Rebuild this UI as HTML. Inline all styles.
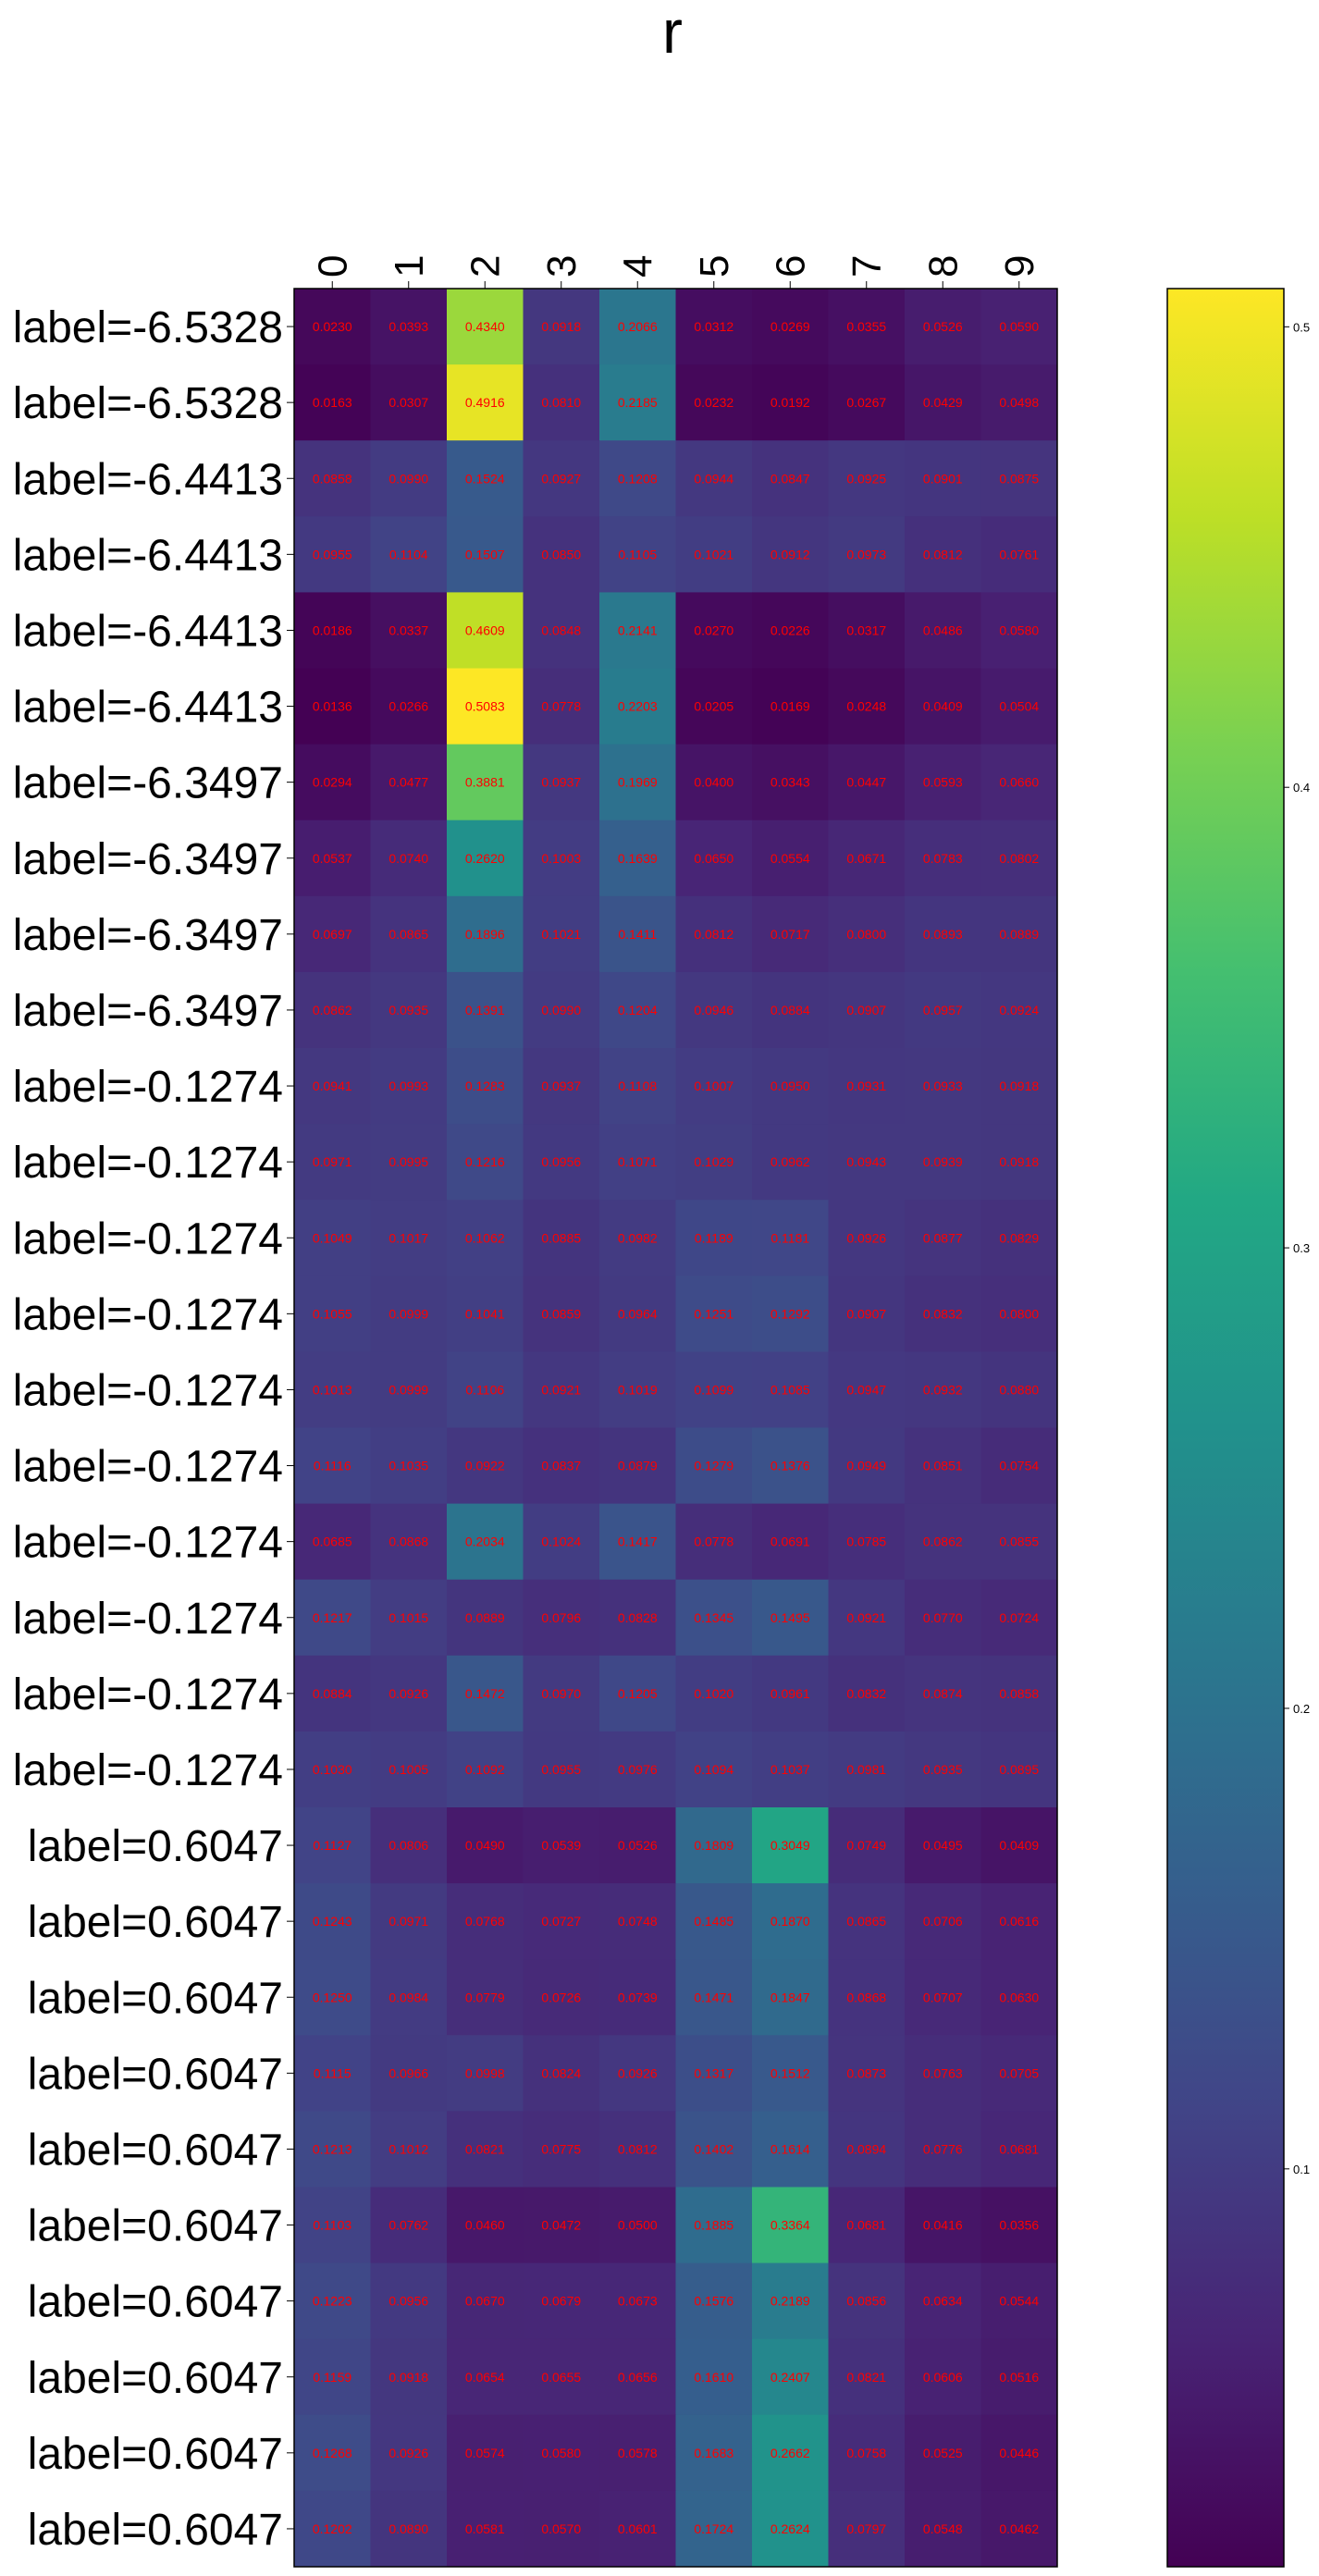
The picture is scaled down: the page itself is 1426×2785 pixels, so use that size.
<!DOCTYPE html>
<html><head><meta charset="utf-8">
<style>
html,body{margin:0;padding:0;background:#fff;}
svg{display:block;}
text{font-family:"Liberation Sans","DejaVu Sans",sans-serif;}
</style></head>
<body>
<svg id="chart" width="1426" height="2785" viewBox="0 0 1426 2785" xmlns="http://www.w3.org/2000/svg">
<defs>
<linearGradient id="vir" x1="0" y1="1" x2="0" y2="0">
<stop offset="0" stop-color="#440154"/><stop offset="0.1" stop-color="#482475"/><stop offset="0.2" stop-color="#414487"/><stop offset="0.3" stop-color="#355f8d"/><stop offset="0.4" stop-color="#2a788e"/><stop offset="0.5" stop-color="#21918c"/><stop offset="0.6" stop-color="#22a884"/><stop offset="0.7" stop-color="#44bf70"/><stop offset="0.8" stop-color="#7ad151"/><stop offset="0.9" stop-color="#bddf26"/><stop offset="1" stop-color="#fde725"/>
</linearGradient>
</defs>
<text x="727" y="57" font-size="66" text-anchor="middle">r</text>
<g id="cells"></g>
<rect x="318" y="312" width="825" height="2463" fill="none" stroke="#000" stroke-width="1.5"/>
<g id="xaxis"></g>
<g id="yaxis"></g>
<rect x="1262" y="312" width="126" height="2463" fill="url(#vir)" stroke="#000" stroke-width="1.5"/>
<g id="cbar"></g>
</svg>
<script>
const columns = ["0","1","2","3","4","5","6","7","8","9"];
const rowLabels = ["label=-6.5328","label=-6.5328","label=-6.4413","label=-6.4413","label=-6.4413","label=-6.4413","label=-6.3497","label=-6.3497","label=-6.3497","label=-6.3497","label=-0.1274","label=-0.1274","label=-0.1274","label=-0.1274","label=-0.1274","label=-0.1274","label=-0.1274","label=-0.1274","label=-0.1274","label=-0.1274","label=0.6047","label=0.6047","label=0.6047","label=0.6047","label=0.6047","label=0.6047","label=0.6047","label=0.6047","label=0.6047","label=0.6047"];
const values = [
[0.0230,0.0393,0.4340,0.0918,0.2066,0.0312,0.0269,0.0355,0.0526,0.0590],
[0.0163,0.0307,0.4916,0.0810,0.2185,0.0232,0.0192,0.0267,0.0429,0.0498],
[0.0858,0.0990,0.1524,0.0927,0.1208,0.0944,0.0847,0.0925,0.0901,0.0875],
[0.0955,0.1104,0.1507,0.0850,0.1105,0.1021,0.0912,0.0973,0.0812,0.0761],
[0.0186,0.0337,0.4609,0.0848,0.2141,0.0270,0.0226,0.0317,0.0486,0.0580],
[0.0136,0.0266,0.5083,0.0778,0.2203,0.0205,0.0169,0.0248,0.0409,0.0504],
[0.0294,0.0477,0.3881,0.0937,0.1969,0.0400,0.0343,0.0447,0.0593,0.0660],
[0.0537,0.0740,0.2620,0.1003,0.1639,0.0650,0.0554,0.0671,0.0783,0.0802],
[0.0697,0.0865,0.1896,0.1021,0.1411,0.0812,0.0717,0.0800,0.0893,0.0889],
[0.0862,0.0935,0.1391,0.0990,0.1204,0.0946,0.0884,0.0907,0.0957,0.0924],
[0.0941,0.0993,0.1283,0.0937,0.1108,0.1007,0.0950,0.0931,0.0933,0.0918],
[0.0971,0.0995,0.1216,0.0956,0.1071,0.1029,0.0962,0.0943,0.0939,0.0918],
[0.1049,0.1017,0.1062,0.0885,0.0982,0.1189,0.1181,0.0926,0.0877,0.0829],
[0.1055,0.0999,0.1041,0.0859,0.0964,0.1251,0.1292,0.0907,0.0832,0.0800],
[0.1013,0.0999,0.1106,0.0921,0.1019,0.1099,0.1085,0.0947,0.0932,0.0880],
[0.1116,0.1035,0.0922,0.0837,0.0879,0.1279,0.1376,0.0949,0.0851,0.0754],
[0.0685,0.0868,0.2034,0.1024,0.1417,0.0778,0.0691,0.0785,0.0862,0.0855],
[0.1217,0.1015,0.0889,0.0796,0.0828,0.1345,0.1495,0.0921,0.0770,0.0724],
[0.0884,0.0926,0.1472,0.0970,0.1205,0.1020,0.0961,0.0832,0.0874,0.0858],
[0.1030,0.1005,0.1092,0.0955,0.0976,0.1094,0.1037,0.0981,0.0935,0.0895],
[0.1127,0.0806,0.0490,0.0539,0.0526,0.1809,0.3049,0.0749,0.0495,0.0409],
[0.1243,0.0971,0.0768,0.0727,0.0748,0.1485,0.1870,0.0865,0.0706,0.0616],
[0.1250,0.0984,0.0779,0.0726,0.0739,0.1471,0.1847,0.0868,0.0707,0.0630],
[0.1115,0.0966,0.0998,0.0824,0.0926,0.1317,0.1512,0.0873,0.0763,0.0705],
[0.1213,0.1012,0.0821,0.0775,0.0812,0.1402,0.1614,0.0894,0.0776,0.0681],
[0.1103,0.0762,0.0460,0.0472,0.0500,0.1885,0.3364,0.0681,0.0416,0.0356],
[0.1223,0.0956,0.0670,0.0679,0.0673,0.1576,0.2189,0.0856,0.0634,0.0544],
[0.1159,0.0918,0.0654,0.0655,0.0656,0.1610,0.2407,0.0821,0.0606,0.0516],
[0.1268,0.0926,0.0574,0.0580,0.0578,0.1683,0.2662,0.0758,0.0525,0.0446],
[0.1202,0.0890,0.0581,0.0570,0.0601,0.1724,0.2624,0.0797,0.0548,0.0462]
];
const cbarTicks = [0.1,0.2,0.3,0.4,0.5];

const NS = "http://www.w3.org/2000/svg";
const X0 = 318, X1 = 1143, Y0 = 312, Y1 = 2775;
const cw = (X1 - X0) / columns.length, rh = (Y1 - Y0) / values.length;
const xPos = i => X0 + i * cw;
const yPos = j => Y0 + j * rh;
let vmin = Infinity, vmax = -Infinity;
values.forEach(r => r.forEach(v => { vmin = Math.min(vmin, v); vmax = Math.max(vmax, v); }));
const vir = ["#440154","#482475","#414487","#355f8d","#2a788e","#21918c","#22a884","#44bf70","#7ad151","#bddf26","#fde725"];
function hex(h){return [1,3,5].map(k=>parseInt(h.substr(k,2),16));}
function color(v){
  let t = (v - vmin) / (vmax - vmin); t = Math.max(0, Math.min(1, t));
  const p = t * 10, i = Math.min(9, Math.floor(p)), f = p - i;
  const a = hex(vir[i]), b = hex(vir[i+1]);
  return "rgb(" + a.map((c,k)=>Math.round(c + (b[k]-c)*f)).join(",") + ")";
}
function mk(tag, attrs, parent){
  const e = document.createElementNS(NS, tag);
  for (const k in attrs) e.setAttribute(k, attrs[k]);
  parent.appendChild(e); return e;
}
const cells = document.getElementById("cells");
values.forEach((row, j) => row.forEach((v, i) => {
  const r = mk("rect", {x: xPos(i), y: yPos(j), width: cw + 0.5, height: rh + 0.5, fill: color(v)}, cells);
  
  
  const t = mk("text", {x: xPos(i) + cw/2, y: yPos(j) + rh/2 + 5, "font-size": 14, fill: "#ff0000", "text-anchor": "middle"}, cells);
  t.textContent = v.toFixed(4);
  
  
}));
const xa = document.getElementById("xaxis");
columns.forEach((c, i) => {
  const cx = xPos(i) + cw/2;
  const tk = mk("line", {x1: cx, x2: cx, y1: Y0, y2: Y0 - 8, stroke: "#000", "stroke-width": 1}, xa);
  
  
  const t = mk("text", {x: 0, y: 0, "font-size": 44, transform: "translate(" + (cx + 15) + "," + (Y0 - 12) + ") rotate(-90)"}, xa);
  t.textContent = c;
  
  
});
const ya = document.getElementById("yaxis");
rowLabels.forEach((l, j) => {
  const cy = yPos(j) + rh/2;
  const tk = mk("line", {x1: X0, x2: X0 - 8, y1: cy, y2: cy, stroke: "#000", "stroke-width": 1}, ya);
  
  
  const t = mk("text", {x: X0 - 12, y: cy + 17, "font-size": 48, "text-anchor": "end"}, ya);
  t.textContent = l;
  
  
});
const cb = document.getElementById("cbar");
const cbY = v => Y1 - (v - vmin) / (vmax - vmin) * (Y1 - Y0);
cbarTicks.forEach(v => {
  const y = cbY(v);
  const tk = mk("line", {x1: 1388, x2: 1394, y1: y, y2: y, stroke: "#000", "stroke-width": 1}, cb);
  
  
  const t = mk("text", {x: 1398, y: y + 5, "font-size": 13}, cb);
  t.textContent = String(v);
  
  
});
</script>
</body></html>
